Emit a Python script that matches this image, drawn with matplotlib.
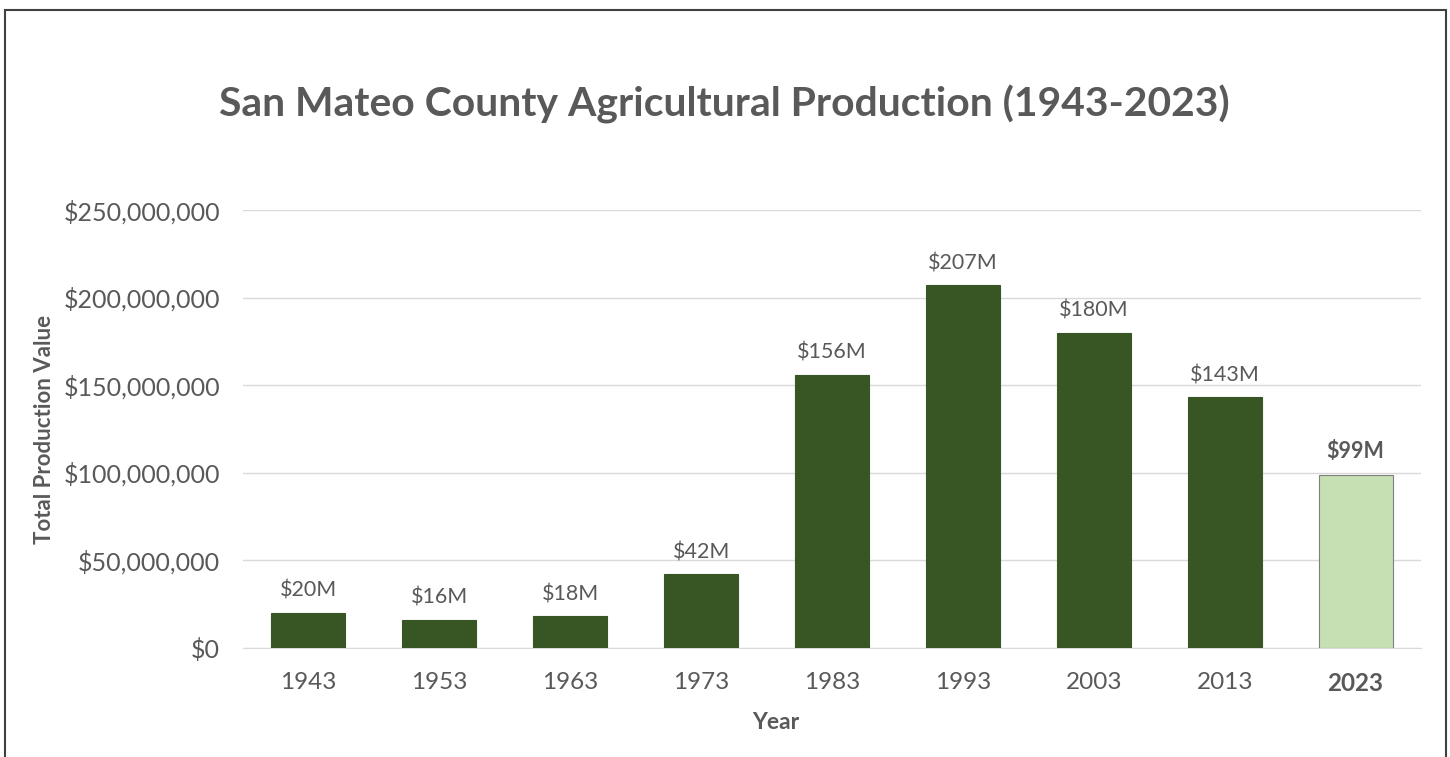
import matplotlib
matplotlib.use("Agg")
import matplotlib.pyplot as plt
from matplotlib.patches import Rectangle
from matplotlib.ticker import FuncFormatter

years = ["1943", "1953", "1963", "1973", "1983", "1993", "2003", "2013", "2023"]
values = [20e6, 16e6, 18e6, 42e6, 156e6, 207e6, 180e6, 143e6, 99e6]
labels = ["$20M", "$16M", "$18M", "$42M", "$156M", "$207M", "$180M", "$143M", "$99M"]
yticks = [0, 50e6, 100e6, 150e6, 200e6, 250e6]

plt.rcParams['font.family'] = ['Lato', 'DejaVu Sans']
W, H = 1450, 757
fig = plt.figure(figsize=(W/100, H/100), dpi=100)
AW = 1421 - 243
ax = fig.add_axes([243/W, 1-648/H, AW/W, (648-210)/H])

txt = '#595959'
colors = ['#375623']*8 + ['#C6E0B4']
edges = ['#375623']*8 + ['#7f7f7f']
x = list(range(len(years)))
ax.bar(x, values, width=0.566, color=colors, edgecolor=edges, linewidth=0.8, zorder=3)
for i, (v, l) in enumerate(zip(values, labels)):
    ax.text(i, v + 7e6, l, ha='center', va='bottom', fontsize=15.5, color=txt,
            fontweight='bold' if i == 8 else 'normal')

ax.set_xlim(-0.5, 8.5)
ax.set_ylim(0, 250e6)
ax.set_yticks(yticks)
ax.yaxis.set_major_formatter(FuncFormatter(lambda v, p: "${:,.0f}".format(v)))
ax.grid(axis='y', color='#d9d9d9', linewidth=1.0, zorder=0)
for s in ['top', 'right', 'left']:
    ax.spines[s].set_visible(False)
ax.spines['bottom'].set_color('#d9d9d9')
ax.tick_params(axis='both', length=0, colors=txt)
ax.tick_params(axis='y', pad=16.5, labelsize=18)
ax.tick_params(axis='x', pad=17, labelsize=17.5)
ax.set_xticks(x)
ax.set_xticklabels(years)
ax.get_xticklabels()[-1].set_fontweight('bold')

ax.set_xlabel("Year", fontsize=16.5, fontweight='bold', color=txt)
ax.xaxis.set_label_coords((776-243)/AW, -64/438)
ax.set_ylabel("Total Production Value", fontsize=16, fontweight='bold', color=txt)
ax.yaxis.set_label_coords(-188/AW, 0.5)

fig.text(724/W, 1-104/H, "San Mateo County Agricultural Production (1943-2023)",
         ha='center', va='center', fontsize=29.4, fontweight='bold', color=txt)

fig.add_artist(Rectangle((5/W, -0.1), (1446-5)/W, 1.1 - 10/H, transform=fig.transFigure,
                         fill=False, edgecolor='#404040', linewidth=1.5))

fig.savefig("out.png", dpi=100)
